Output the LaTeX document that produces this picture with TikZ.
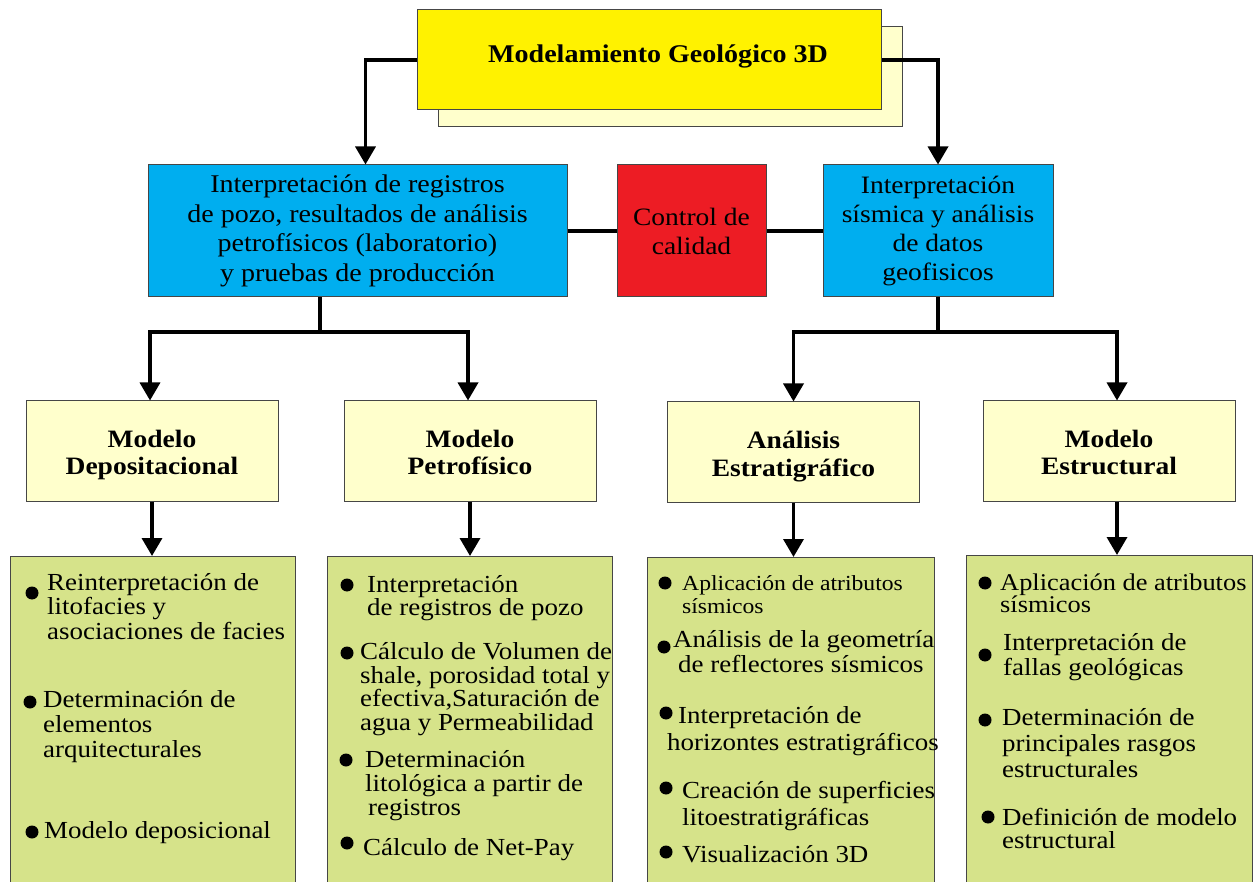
\documentclass[tikz,border=0pt]{standalone}
\usepackage{fontspec}
\setmainfont{Liberation Serif}[FakeStretch=1.1]
\usetikzlibrary{arrows.meta}
\definecolor{amarillo}{RGB}{255,242,0}
\definecolor{crema}{RGB}{255,255,204}
\definecolor{celeste}{RGB}{0,174,239}
\definecolor{rojo}{RGB}{237,28,36}
\definecolor{verde}{RGB}{214,227,138}
\definecolor{borde}{RGB}{70,70,70}

\begin{document}
\begin{tikzpicture}[x=1pt,y=-1pt,
  caja/.style={draw=borde, line width=1pt, inner sep=0pt, align=center},
  nivel/.style={caja, fill=crema, minimum width=252, minimum height=100,
    text height=53pt, text depth=5pt, font=\bfseries\fontsize{25}{28}\selectfont},
  lista/.style={caja, fill=verde, minimum width=285, minimum height=340, anchor=north},
  txt/.style={anchor=base west, align=left, inner sep=0pt,
    font=\fontsize{24.5}{24.5}\selectfont},
  linea/.style={line width=3.5pt},
  flecha/.style={line width=3.5pt, -{Triangle[length=18pt,width=20pt]}}]
\useasboundingbox (0,0) rectangle (1256,882);
\clip (0,0) rectangle (1256,882);
\fill[white] (0,0) rectangle (1256,882);

% titulo
\node[caja, fill=crema, minimum width=464, minimum height=100] (sombra) at (670,77) {};
\node[caja, fill=amarillo, minimum width=464, minimum height=100, text depth=13pt,
  font=\bfseries\fontsize{25.5}{28}\selectfont] (titulo) at (649,60) {\hspace*{18pt}Modelamiento Geológico 3D};

% segundo nivel
\node[caja, fill=celeste, minimum width=419, minimum height=132,
  font=\fontsize{25.5}{29.5}\selectfont] (interp1) at (357.5,231)
  {Interpretación de registros\\de pozo, resultados de análisis\\petrofísicos (laboratorio)\\y pruebas de producción};
\node[caja, fill=rojo, minimum width=149, minimum height=132,
  font=\fontsize{25}{29}\selectfont] (control) at (691.5,231) {Control de\\calidad};
\node[caja, fill=celeste, minimum width=230, minimum height=132,
  font=\fontsize{25}{29}\selectfont] (interp2) at (938,231)
  {Interpretación\\sísmica y análisis\\de datos\\geofisicos};

% tercer nivel
\node[nivel] (depo) at (152,451) {Modelo\\Depositacional};
\node[nivel] (petro) at (470,451) {Modelo\\Petrofísico};
\node[nivel] (estrat) at (793.5,452) {Análisis\\Estratigráfico};
\node[nivel] (estruc) at (1109,451) {Modelo\\Estructural};

% cuarto nivel
\node[lista] (g1) at (152.5,556) {};
\node[lista] (g2) at (470,556) {};
\node[lista, minimum width=287] (g3) at (790.5,557) {};
\node[lista, minimum width=286] (g4) at (1109,555) {};

\foreach \x/\y in {32/593, 30/702, 32/832, 347/585, 347/653, 346/760, 347/843,
  665/583, 664/647, 666/713, 666/788, 666/852, 985/583, 985/655, 985/720, 988/817}
  \fill (\x,\y) circle (6.5);

\node[txt] (g1a) at (47,639) {Reinterpretación de\\litofacies y\\asociaciones de facies};
\node[txt, font=\fontsize{24.5}{25}\selectfont] (g1b) at (43,757) {Determinación de\\elementos\\arquitecturales};
\node[txt] (g1c) at (44,838) {Modelo deposicional};

\node[txt, font=\fontsize{24.5}{23}\selectfont] (g2a) at (367,615) {Interpretación\\de registros de pozo};
\node[txt, font=\fontsize{24.5}{23.5}\selectfont] (g2b) at (360,730)
  {Cálculo de Volumen de\\shale, porosidad total y\\efectiva,Saturación de\\agua y Permeabilidad};
\node[txt, font=\fontsize{24.5}{24}\selectfont] (g2c) at (365,815)
  {Determinación\\litológica a partir de\\\hspace*{3pt}registros};
\node[txt] (g2d) at (363,855) {Cálculo de Net-Pay};

\node[txt, font=\fontsize{21.5}{23}\selectfont] (g3a) at (682,613) {Aplicación de atributos\\sísmicos};
\node[txt, font=\fontsize{24.5}{25}\selectfont] (g3b) at (673,672)
  {Análisis de la geometría\\\hspace*{5pt}de reflectores sísmicos};
\node[txt, font=\fontsize{24.5}{27}\selectfont] (g3c) at (667,750)
  {\hspace*{11pt}Interpretación de\\horizontes estratigráficos};
\node[txt, font=\fontsize{24.5}{27}\selectfont] (g3d) at (682,825) {Creación de superficies\\litoestratigráficas};
\node[txt] (g3e) at (682,862) {Visualización 3D};

\node[txt, font=\fontsize{24}{22}\selectfont] (g4a) at (1000,612) {Aplicación de atributos\\sísmicos};
\node[txt, font=\fontsize{24.5}{25}\selectfont] (g4b) at (1003,675) {Interpretación de\\fallas geológicas};
\node[txt, font=\fontsize{24.5}{26}\selectfont] (g4c) at (1002,777)
  {Determinación de\\principales rasgos\\estructurales};
\node[txt, font=\fontsize{24.5}{23}\selectfont] (g4d) at (1002,848) {Definición de modelo\\estructural};

% conectores
\coordinate (n1) at (320,332);
\coordinate (n2) at (938,332);
\draw[flecha] (titulo.west) -| ([xshift=8pt]interp1.north);
\draw[flecha] (titulo.east) -| (interp2.north);
\draw[linea] (interp1.east) -- (control.west);
\draw[linea] (control.east) -- (interp2.west);
\draw[linea] (n1 |- interp1.south) -- (n1);
\draw[flecha] (n1) -| ([xshift=-2pt]depo.north);
\draw[flecha] (n1) -| ([xshift=-2pt]petro.north);
\draw[linea] (interp2.south) -- (n2);
\draw[flecha] (n2) -| (estrat.north);
\draw[flecha] (n2) -| ([xshift=8pt]estruc.north);
\draw[flecha] (depo.south) -- (depo.south |- g1.north);
\draw[flecha] (petro.south) -- (petro.south |- g2.north);
\draw[flecha] (estrat.south) -- (estrat.south |- g3.north);
\draw[flecha] ([xshift=8pt]estruc.south) -- ([xshift=8pt]estruc.south |- g4.north);
\end{tikzpicture}
\end{document}
